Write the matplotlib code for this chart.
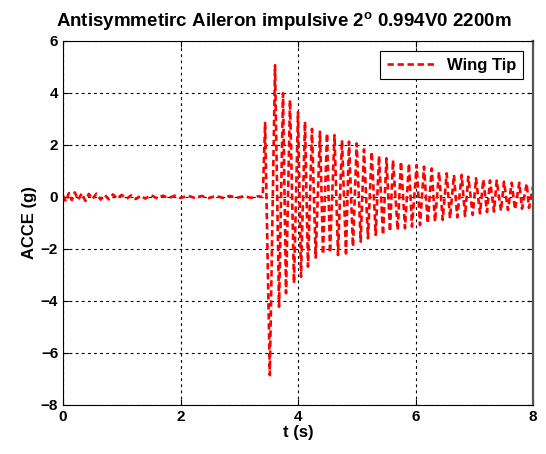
import numpy as np
import matplotlib
matplotlib.use("Agg")
import matplotlib.pyplot as plt

plt.rcParams['font.family'] = ['Liberation Sans', 'DejaVu Sans']
plt.rcParams['font.weight'] = 'bold'
plt.rcParams['mathtext.fontset'] = 'custom'
plt.rcParams['mathtext.bf'] = 'Liberation Sans:bold'
plt.rcParams['mathtext.rm'] = 'Liberation Sans:bold'

# pre-impulse small noise (time, value)
pre_t = [0.00, 0.05, 0.10, 0.15, 0.20, 0.26, 0.32, 0.38, 0.44, 0.50, 0.57, 0.64, 0.71,
         0.78, 0.85, 0.92, 1.00, 1.08, 1.16, 1.24, 1.32, 1.40, 1.50, 1.60, 1.70, 1.80,
         1.90, 2.00, 2.12, 2.24, 2.36, 2.48, 2.60, 2.72, 2.84, 2.96, 3.08, 3.20, 3.32, 3.40]
pre_v = [0.05, -0.18, 0.15, -0.12, 0.18, -0.10, 0.14, -0.15, 0.12, -0.08, 0.13, -0.10, 0.08,
         -0.09, 0.10, -0.06, 0.08, -0.07, 0.06, -0.08, 0.05, -0.06, 0.07, -0.05, 0.05, -0.04,
         0.05, -0.04, 0.05, -0.03, 0.04, -0.04, 0.04, -0.03, 0.04, -0.03, 0.03, -0.03, 0.03, 0.00]

# response peaks
max_t = [3.44, 3.609, 3.745, 3.864, 4.000, 4.119, 4.238, 4.374, 4.494, 4.621, 4.749, 4.868,
         4.999, 5.123, 5.254, 5.379, 5.506, 5.617, 5.753, 5.889, 6.020, 6.145, 6.276,
         6.400, 6.531, 6.655, 6.786, 6.899, 7.030, 7.154, 7.268, 7.382, 7.506, 7.637,
         7.767, 7.893, 8.000]
max_v = [2.85, 5.07, 3.99, 3.73, 3.27, 2.90, 2.62, 2.51, 2.45, 2.38, 2.19, 2.13,
         2.06, 1.83, 1.74, 1.58, 1.49, 1.42, 1.36, 1.29, 1.23, 1.17, 1.10,
         0.97, 0.91, 0.85, 0.85, 0.78, 0.72, 0.67, 0.64, 0.63, 0.59, 0.55,
         0.55, 0.52, 0.40]
min_t = [3.52, 3.677, 3.796, 3.932, 4.051, 4.170, 4.301, 4.426, 4.545, 4.681, 4.817, 4.936,
         5.067, 5.191, 5.323, 5.447, 5.566, 5.697, 5.821, 5.940, 6.077, 6.208, 6.332,
         6.463, 6.587, 6.711, 6.843, 6.974, 7.098, 7.217, 7.336, 7.455, 7.574, 7.694,
         7.813, 7.932]
min_v = [-6.85, -4.22, -3.70, -3.32, -3.07, -2.68, -2.33, -2.20, -2.15, -2.23, -2.17, -1.91,
         -1.72, -1.59, -1.46, -1.46, -1.33, -1.27, -1.20, -1.14, -1.08, -1.01, -0.95,
         -0.88, -0.82, -0.78, -0.73, -0.69, -0.63, -0.58, -0.56, -0.53, -0.50, -0.48,
         -0.45, -0.42]

t = np.concatenate([pre_t, max_t, min_t])
v = np.concatenate([pre_v, max_v, min_v])
order = np.argsort(t)
t = t[order]
v = v[order]

fig = plt.figure(figsize=(5.46, 4.54), dpi=100)
ax = fig.add_axes([63/546, 1-405/454, (533-63)/546, (405-41)/454])

ax.plot(t, v, color='#ff0000', linestyle=(0, (2.4, 1.4)), linewidth=1.9, label='Wing Tip')

ax.set_xlim(0, 8)
ax.set_ylim(-8, 6)
ax.set_xticks([0, 2, 4, 6, 8])
ax.set_yticks([-8, -6, -4, -2, 0, 2, 4, 6])
ax.grid(True, color='black', linestyle=(0, (2.5, 3)), linewidth=0.8)
ax.tick_params(direction='in', top=True, right=True, labelsize=11, length=4, width=0.8)
for lab in ax.get_xticklabels() + ax.get_yticklabels():
    lab.set_fontweight('bold')
for s in ax.spines.values():
    s.set_linewidth(0.8)
ax.spines['right'].set_linewidth(1.6)
ax.spines['right'].set_color('#555555')

ax.set_xlabel('t (s)', fontsize=12, fontweight='bold', labelpad=1)
ax.set_ylabel('ACCE (g)', fontsize=12, fontweight='bold', labelpad=3)
ax.set_title(r'Antisymmetirc Aileron impulsive 2$^{\mathbf{o}}$ 0.994V0 2200m',
             fontsize=13.5, fontweight='bold', pad=10, x=0.47)

leg = ax.legend(loc='upper right', frameon=True, fancybox=False,
                edgecolor='black', framealpha=1, borderaxespad=0.6, handlelength=2.8,
                prop={'weight': 'bold', 'size': 12})
leg.get_frame().set_linewidth(0.8)

fig.savefig('out.png', dpi=100)
